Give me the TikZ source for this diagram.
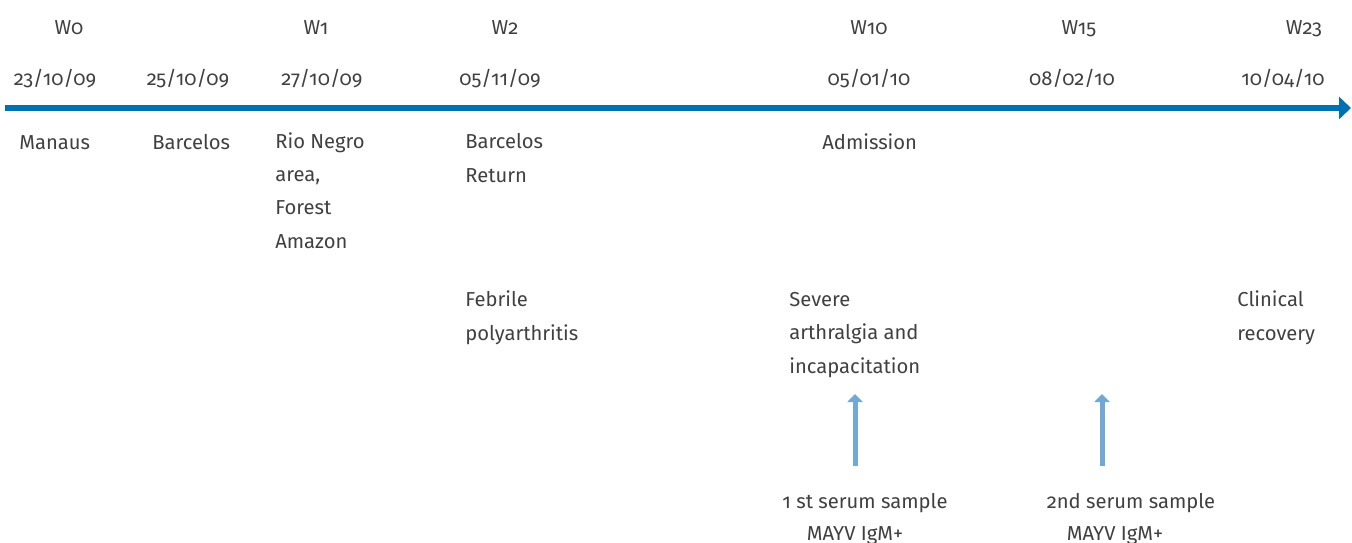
\documentclass[tikz,border=0pt]{standalone}
\usepackage{fontspec}
\setmainfont[Numbers=OldStyle]{Fira Sans}
\usetikzlibrary{arrows.meta}
\definecolor{lineblue}{RGB}{0,112,176}
\definecolor{sampleblue}{RGB}{112,168,214}
\definecolor{txtgray}{RGB}{64,64,64}
\tikzset{
  lbl/.style={inner sep=0pt,text=txtgray,align=left,anchor=base west,
    font=\fontsize{11.5}{18.9}\selectfont},
  week/.style={lbl,anchor=base},
  sample/.style={draw=sampleblue,line width=0.1cm,
    -{Triangle[length=0.16cm,width=0.3cm]}}
}
\begin{document}
\begin{tikzpicture}[x=0.02cm,y=-0.02cm]
    \useasboundingbox (0,0) rectangle (1352,542);
    %% weeks
    \node[week] (w0) at (69,34) {W0};
    \node[week] (w1) at (316,34) {W1};
    \node[week] (w2) at (505,34) {W2};
    \node[week] (w10) at (869,34) {W10};
    \node[week] (w15) at (1079,34) {W15};
    \node[week] (w23) at (1304,34) {W23};
    %% dates
    \node[week] (d1) at (55,85) {23/10/09};
    \node[week] (d2) at (188,85) {25/10/09};
    \node[week] (d3) at (322,85) {27/10/09};
    \node[week] (d4) at (500,85) {05/11/09};
    \node[week] (d5) at (869,85) {05/01/10};
    \node[week] (d6) at (1072,85) {08/02/10};
    \node[week] (d7) at (1283,85) {10/04/10};
    %% time line
    \coordinate (start) at (5,108);
    \coordinate (end) at (1351,108);
    \draw[lineblue,line width=0.12cm,-{Triangle[length=0.24cm,width=0.44cm]}] (start) -- (end);
    %% places (base = last line)
    \node[lbl] (manaus) at (19,149) {Manaus};
    \node[lbl] (barcelos) at (152,149) {Barcelos};
    \node[lbl] (rionegro) at (275,248) {Rio Negro\\area,\\Forest\\Amazon};
    \node[lbl] (return) at (465,182) {Barcelos\\Return};
    \node[lbl] (admission) at (822,149) {Admission};
    %% clinical course
    \node[lbl] (febrile) at (465,340) {Febrile\\polyarthritis};
    \node[lbl] (severe) at (789,373) {Severe\\arthralgia and\\incapacitation};
    \node[lbl] (recovery) at (1237,340) {Clinical\\recovery};
    %% serum samples
    \node[week] (s1) at (865,508) {1 st serum sample};
    \node[week] (m1) at (855,540) {MAYV IgM+};
    \node[week] (s2) at (1131,508) {2nd serum sample};
    \node[week] (m2) at (1115,540) {MAYV IgM+};
    \coordinate (t1) at (855,394);
    \coordinate (t2) at (1102,394);
    \draw[sample] (s1.north -| t1) ++(0,-27) -- (t1);
    \draw[sample] (s2.north -| t2) ++(0,-27) -- (t2);
\end{tikzpicture}
\end{document}
